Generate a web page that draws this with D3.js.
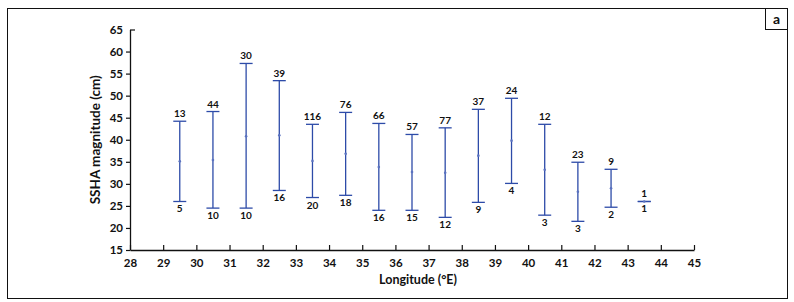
<!DOCTYPE html>
<html>
<head>
<meta charset="utf-8">
<script src="https://cdn.jsdelivr.net/npm/d3@7"></script>
<style>
  body { margin: 0; background: #fff; }
  text { font-family: Lato, "Open Sans", sans-serif; font-weight: bold; fill: #111; }
</style>
</head>
<body>
<div id="vis"></div>
<script>
// datos
const longitudes = [29.5, 30.5, 31.5, 32.5, 33.5, 34.5, 35.5, 36.5, 37.5, 38.5, 39.5, 40.5, 41.5, 42.5, 43.5];
const medias    = [35.1, 35.4, 40.8, 41.0, 35.2, 36.8, 33.8, 32.7, 32.5, 36.4, 39.8, 33.2, 28.2, 29.0, 26.0];
const maximos   = [44.2, 46.4, 57.3, 53.4, 43.5, 46.2, 43.7, 41.2, 42.7, 46.9, 49.4, 43.5, 34.9, 33.3, 26.0];
const minimos   = [26.0, 24.5, 24.5, 28.5, 26.9, 27.4, 24.0, 24.0, 22.4, 25.8, 30.1, 22.9, 21.5, 24.7, 26.0];
const nArriba   = [13, 44, 30, 39, 116, 76, 66, 57, 77, 37, 24, 12, 23, 9, 1];
const nAbajo    = [5, 10, 10, 16, 20, 18, 16, 15, 12, 9, 4, 3, 3, 2, 1];
const ticksX = d3.range(28, 46, 1);
const ticksY = d3.range(15, 70, 5);

const WIDTH = 794;
const HEIGHT = 302;
const AZUL = "#2d4ba8";

const SVG = d3.select("#vis").append("svg")
    .attr("width", WIDTH)
    .attr("height", HEIGHT);

const datos = longitudes.map((d, i) => ({
    lon: d, media: medias[i], max: maximos[i], min: minimos[i], arriba: nArriba[i], abajo: nAbajo[i]
}));

// marco
SVG.append("rect")
    .attr("x", 7.5).attr("y", 8.5)
    .attr("width", 780).attr("height", 290)
    .attr("fill", "none").attr("stroke", "#111").attr("stroke-width", 1);

SVG.append("rect")
    .attr("x", 765.5).attr("y", 8.5)
    .attr("width", 22).attr("height", 21)
    .attr("fill", "none").attr("stroke", "#111").attr("stroke-width", 1);

SVG.append("text")
    .attr("x", 776.5).attr("y", 24)
    .attr("text-anchor", "middle")
    .attr("font-size", "14px")
    .text("a");

// escalas
const x = d3.scaleLinear().domain([28, 45]).range([130, 694]);
const y = d3.scaleLinear().domain([15, 65]).range([250, 29.5]);

// eje x
const ejeX = SVG.append("g")
    .attr("transform", `translate(0,${y(15)})`)
    .call(d3.axisBottom(x).tickValues(ticksX).tickSize(-5).tickSizeOuter(0).tickPadding(9).tickFormat(d3.format("d")));

// eje y
const ejeY = SVG.append("g")
    .attr("transform", `translate(${x(28)},0)`)
    .call(d3.axisLeft(y).tickValues(ticksY).tickSize(4).tickSizeOuter(0).tickPadding(3).tickFormat(d3.format("d")));

[ejeX, ejeY].forEach(g => {
    g.select(".domain").attr("stroke", "#111").attr("stroke-width", 1.3);
    g.selectAll(".tick line").attr("stroke", "#111").attr("stroke-width", 1.2);
    g.selectAll(".tick text")
        .attr("font-family", "Lato, 'Open Sans', sans-serif")
        .attr("font-weight", "bold")
        .attr("font-size", "11.5px")
        .attr("fill", "#111");
});
ejeY.select(".tick:last-of-type line").attr("x2", 5);

// titulos
SVG.append("text")
    .attr("x", (x(28) + x(45)) / 2 + 6)
    .attr("y", 284)
    .attr("text-anchor", "middle")
    .attr("font-size", "12.5px")
    .text("Longitude (°E)");

SVG.append("text")
    .attr("transform", `translate(100,${(y(15) + y(65)) / 2}) rotate(-90)`)
    .attr("text-anchor", "middle")
    .attr("font-size", "13.5px")
    .text("SSHA magnitude (cm)");

// barras de rango
const grupo = SVG.append("g");

grupo.selectAll(".barra")
    .data(datos)
    .enter()
    .append("line")
    .attr("class", "barra")
    .attr("x1", d => x(d.lon)).attr("x2", d => x(d.lon))
    .attr("y1", d => y(d.max)).attr("y2", d => y(d.min))
    .attr("stroke", AZUL).attr("stroke-width", 1.3);

grupo.selectAll(".capArriba")
    .data(datos)
    .enter()
    .append("line")
    .attr("class", "capArriba")
    .attr("x1", d => x(d.lon) - 6.5).attr("x2", d => x(d.lon) + 6.5)
    .attr("y1", d => y(d.max)).attr("y2", d => y(d.max))
    .attr("stroke", AZUL).attr("stroke-width", 1.3);

grupo.selectAll(".capAbajo")
    .data(datos)
    .enter()
    .append("line")
    .attr("class", "capAbajo")
    .attr("x1", d => x(d.lon) - 6.5).attr("x2", d => x(d.lon) + 6.5)
    .attr("y1", d => y(d.min)).attr("y2", d => y(d.min))
    .attr("stroke", AZUL).attr("stroke-width", 1.3);

grupo.selectAll(".media")
    .data(datos)
    .enter()
    .append("circle")
    .attr("class", "media")
    .attr("cx", d => x(d.lon))
    .attr("cy", d => y(d.media))
    .attr("r", 1.3)
    .attr("fill", "#5a72c0");

// conteos
grupo.selectAll(".txtArriba")
    .data(datos)
    .enter()
    .append("text")
    .attr("class", "txtArriba")
    .attr("x", d => x(d.lon))
    .attr("y", d => y(d.max) - 4)
    .attr("text-anchor", "middle")
    .attr("font-size", "10px")
    .text(d => d.arriba);

grupo.selectAll(".txtAbajo")
    .data(datos)
    .enter()
    .append("text")
    .attr("class", "txtAbajo")
    .attr("x", d => x(d.lon))
    .attr("y", d => y(d.min) + 11)
    .attr("text-anchor", "middle")
    .attr("font-size", "10px")
    .text(d => d.abajo);
</script>
</body>
</html>
